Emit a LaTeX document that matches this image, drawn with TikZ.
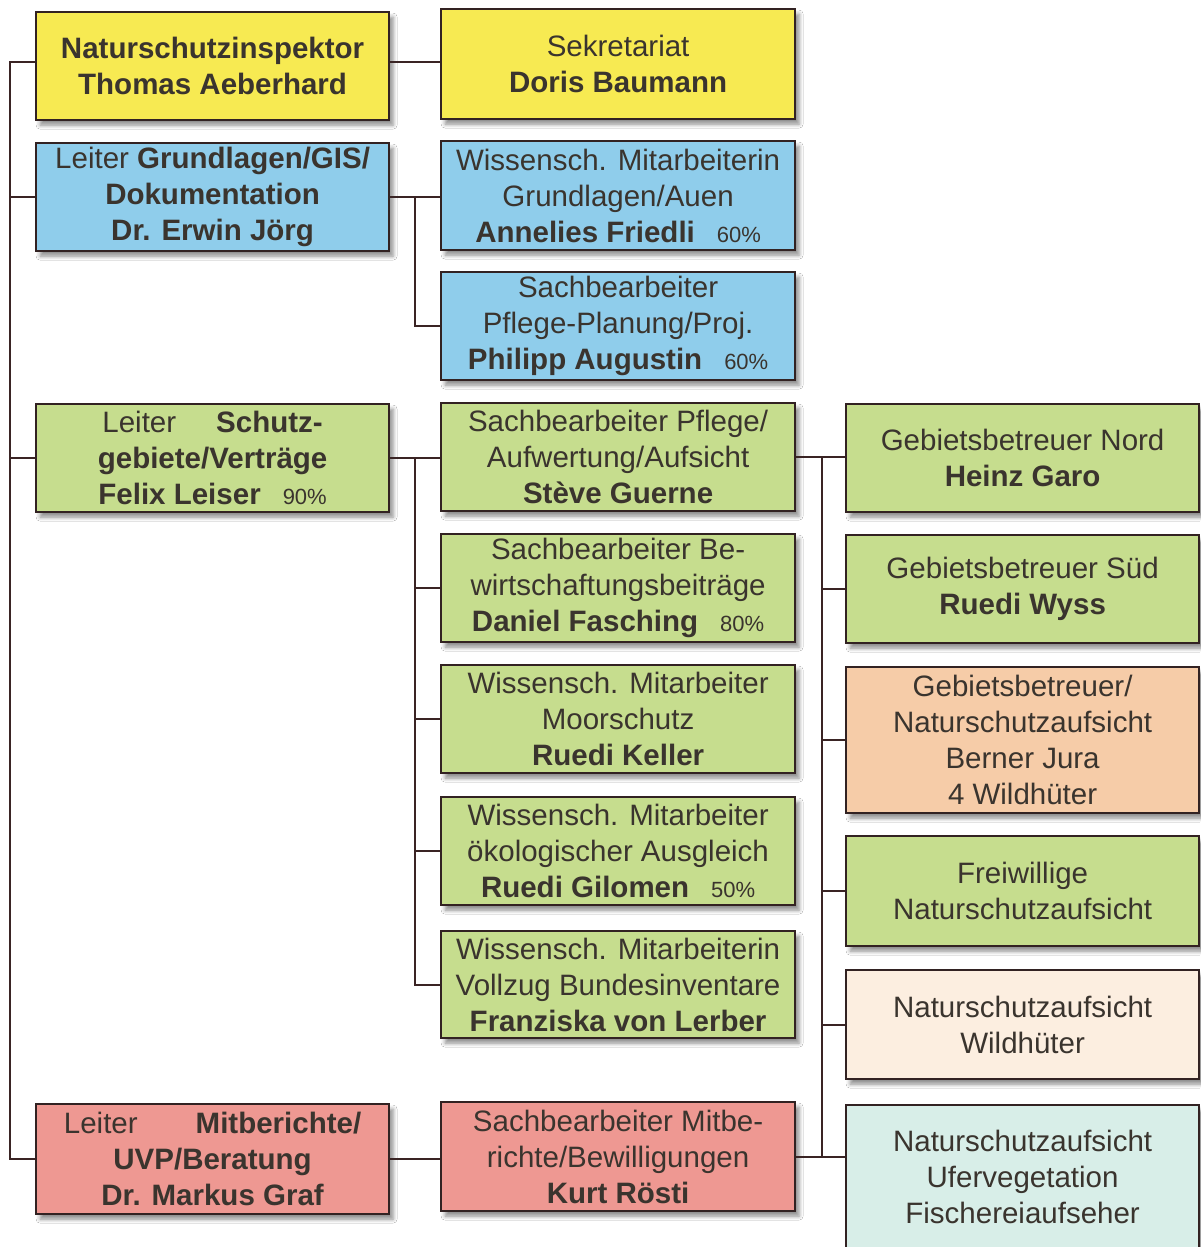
\documentclass[tikz,border=0pt]{standalone}
\usepackage{fontspec}
\setmainfont{Liberation Sans}
\usetikzlibrary{shadows.blur}
\definecolor{cyel}{RGB}{247,234,82}
\definecolor{cblu}{RGB}{143,205,235}
\definecolor{cgrn}{RGB}{198,221,142}
\definecolor{cred}{RGB}{238,152,146}
\definecolor{cpch}{RGB}{246,204,168}
\definecolor{ccrm}{RGB}{252,238,224}
\definecolor{ccyn}{RGB}{216,238,232}
\definecolor{boxline}{RGB}{50,34,34}
\definecolor{lc}{RGB}{58,36,36}
\definecolor{txt}{RGB}{58,52,46}
\newcommand\pcnt[1]{\hspace{22pt}{\fontsize{22}{36}\selectfont #1}}
\begin{document}
\begin{tikzpicture}[x=1pt,y=-1pt,
  box/.style={draw=boxline, line width=2.2pt, inner sep=0pt, anchor=north west,
    align=center, text=txt, font=\fontsize{29.5}{36}\selectfont,
    blur shadow={shadow xshift=4pt, shadow yshift=-5pt, shadow blur radius=4pt, shadow opacity=45}},
  conn/.style={draw=lc, line width=2pt}]
\fill[white] (0,0) rectangle (1200,1247);
\useasboundingbox (0,0) rectangle (1200,1247);
% left column
\node[box, fill=cyel, minimum width=353pt, minimum height=108pt] (A) at (35,11)
  {\textbf{Naturschutzinspektor}\\\textbf{Thomas Aeberhard}};
\node[box, fill=cblu, minimum width=353pt, minimum height=108pt] (B) at (35,142)
  {Leiter \textbf{Grundlagen/GIS/}\\\textbf{Dokumentation}\\\textbf{Dr. Erwin Jörg}};
\node[box, fill=cgrn, minimum width=353pt, minimum height=108pt] (C) at (35,403)
  {Leiter\hspace{40pt}\textbf{Schutz-}\\\textbf{gebiete/Verträge}\\\textbf{Felix Leiser}\pcnt{90\%}};
\node[box, fill=cred, minimum width=353pt, minimum height=110pt] (D) at (35,1103)
  {Leiter\hspace{58pt}\textbf{Mitberichte/}\\\textbf{UVP/Beratung}\\\textbf{Dr. Markus Graf}};
% middle column
\node[box, fill=cyel, minimum width=354pt, minimum height=110pt] (S) at (440,8)
  {Sekretariat\\\textbf{Doris Baumann}};
\node[box, fill=cblu, minimum width=354pt, minimum height=109pt] (F) at (440,140)
  {Wissensch. Mitarbeiterin\\Grundlagen/Auen\\\textbf{Annelies Friedli}\pcnt{60\%}};
\node[box, fill=cblu, minimum width=354pt, minimum height=108pt] (Au) at (440,271)
  {Sachbearbeiter\\Pflege-Planung/Proj.\\\textbf{Philipp Augustin}\pcnt{60\%}};
\node[box, fill=cgrn, minimum width=354pt, minimum height=108pt] (G) at (440,402)
  {Sachbearbeiter Pflege/\\Aufwertung/Aufsicht\\\textbf{Stève Guerne}};
\node[box, fill=cgrn, minimum width=354pt, minimum height=108pt] (Fa) at (440,533)
  {Sachbearbeiter Be-\\wirtschaftungsbeiträge\\\textbf{Daniel Fasching}\pcnt{80\%}};
\node[box, fill=cgrn, minimum width=354pt, minimum height=108pt] (K) at (440,664)
  {Wissensch. Mitarbeiter\\Moorschutz\\\textbf{Ruedi Keller}};
\node[box, fill=cgrn, minimum width=354pt, minimum height=108pt] (Gi) at (440,796)
  {Wissensch. Mitarbeiter\\ökologischer Ausgleich\\\textbf{Ruedi Gilomen}\pcnt{50\%}};
\node[box, fill=cgrn, minimum width=354pt, minimum height=107pt] (L) at (440,930)
  {Wissensch. Mitarbeiterin\\Vollzug Bundesinventare\\\textbf{Franziska von Lerber}};
\node[box, fill=cred, minimum width=354pt, minimum height=109pt] (R) at (440,1101)
  {Sachbearbeiter Mitbe-\\richte/Bewilligungen\\\textbf{Kurt Rösti}};
% right column
\node[box, fill=cgrn, minimum width=353pt, minimum height=108pt] (N) at (845,403)
  {Gebietsbetreuer Nord\\\textbf{Heinz Garo}};
\node[box, fill=cgrn, minimum width=353pt, minimum height=108pt] (Su) at (845,534)
  {Gebietsbetreuer Süd\\\textbf{Ruedi Wyss}};
\node[box, fill=cpch, minimum width=353pt, minimum height=146pt] (J) at (845,666)
  {Gebietsbetreuer/\\Naturschutzaufsicht\\Berner Jura\\4 Wildhüter};
\node[box, fill=cgrn, minimum width=353pt, minimum height=110pt] (Fr) at (845,835)
  {Freiwillige\\Naturschutzaufsicht};
\node[box, fill=ccrm, minimum width=353pt, minimum height=109pt] (W) at (845,969)
  {Naturschutzaufsicht\\Wildhüter};
\node[box, fill=ccyn, minimum width=353pt, minimum height=143pt] (Fi) at (845,1104)
  {Naturschutzaufsicht\\Ufervegetation\\Fischereiaufseher};
% trunk coordinates
\coordinate (t0) at (10,0);
\coordinate (t1) at (415,0);
\coordinate (t2) at (822,0);
% connectors
\draw[conn] ([yshift=4pt]A.west) -| (t0 |- D.west) -- (D.west);
\draw[conn] (B.west) -- (B.west -| t0);
\draw[conn] (C.west) -- (C.west -| t0);
\draw[conn] ([yshift=4pt]A.east) -- ([yshift=4pt]A.east -| S.west);
\draw[conn] (B.east) -- (B.east -| F.west);
\draw[conn] (B.east -| t1) |- (Au.west);
\draw[conn] (C.east) -- (C.east -| G.west);
\draw[conn] (C.east -| t1) |- (L.west);
\draw[conn] (Fa.west) -- (Fa.west -| t1);
\draw[conn] (K.west) -- (K.west -| t1);
\draw[conn] (Gi.west) -- (Gi.west -| t1);
\draw[conn] (D.east) -- (D.east -| R.west);
\draw[conn] (G.east) -- (G.east -| N.west);
\draw[conn] (G.east -| t2) -- (t2 |- R.east);
\draw[conn] (R.east) -- (R.east -| Fi.west);
\draw[conn] (Su.west) -- (Su.west -| t2);
\draw[conn] (J.west) -- (J.west -| t2);
\draw[conn] (Fr.west) -- (Fr.west -| t2);
\draw[conn] (W.west) -- (W.west -| t2);
\end{tikzpicture}
\end{document}
